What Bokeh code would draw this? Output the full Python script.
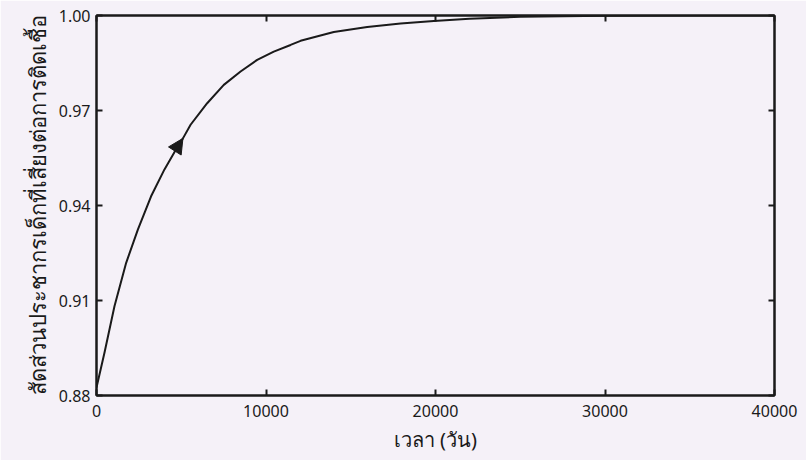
from bokeh.plotting import figure
from bokeh.models import LinearAxis, FixedTicker, Arrow, NormalHead, Range1d
from bokeh.embed import file_html
from bokeh.resources import INLINE

# Proportion of the susceptible child population over time
days = [0, 470, 1060, 1750, 2440, 3220, 4010, 4800, 5100, 5550, 6530, 7510,
        8500, 9480, 10460, 11450, 12040, 14000, 15970, 17940, 19900, 22000,
        25000, 30000, 35000, 40000]
proportion = [0.8825, 0.8935, 0.9082, 0.9219, 0.9324, 0.9429, 0.9514, 0.9587,
              0.9612, 0.9655, 0.9723, 0.9781, 0.9823, 0.9860, 0.9886, 0.9907,
              0.9920, 0.9948, 0.9964, 0.9975, 0.9983, 0.9990, 0.9996, 0.9999,
              1.0, 1.0]

x_ticks = [0, 10000, 20000, 30000, 40000]
y_ticks = [0.88, 0.91, 0.94, 0.97, 1.00]
y_tick_labels = {0.88: "0.88", 0.91: "0.91", 0.94: "0.94", 0.97: "0.97", 1.0: "1.00"}

x_title = "เวลา (วัน)"
y_title = "สัดส่วนประชากรเด็กที่เสี่ยงต่อการติดเชื้อ"

# direction arrow drawn between these two samples of the curve
arrow_from, arrow_to = 7, 8

BG = "#f5f1f8"
INK = "#1a1a1a"
FONT = "Noto Sans"

p = figure(width=806, height=460, output_backend="svg", toolbar_location=None,
           x_range=Range1d(0, 40000), y_range=Range1d(0.88, 1.0),
           min_border_left=96, min_border_right=32, min_border_top=15,
           min_border_bottom=65, background_fill_color=BG,
           border_fill_color=BG)
p.grid.visible = False
p.outline_line_color = INK
p.outline_line_width = 2

def style_axis(ax):
    ax.axis_line_color = INK
    ax.axis_line_width = 2
    ax.major_tick_in = 6
    ax.major_tick_out = 0
    ax.major_tick_line_color = INK
    ax.major_tick_line_width = 2
    ax.minor_tick_line_color = None
    ax.major_label_text_font = FONT
    ax.major_label_text_color = INK
    ax.major_label_text_font_size = "16px"
    ax.major_label_standoff = 6
    ax.axis_label_text_font = FONT
    ax.axis_label_text_font_style = "normal"
    ax.axis_label_text_color = INK

xa = p.xaxis[0]
ya = p.yaxis[0]
xa.ticker = FixedTicker(ticks=x_ticks)
ya.ticker = FixedTicker(ticks=y_ticks)
ya.major_label_overrides = y_tick_labels
style_axis(xa)
style_axis(ya)
xa.major_label_standoff = 9
xa.axis_label = x_title
ya.axis_label = y_title
xa.axis_label_text_font_size = "20px"
ya.axis_label_text_font_size = "22px"
xa.axis_label_standoff = 6
ya.axis_label_standoff = 4

# tick marks on the top and right edges of the frame, without labels
top = LinearAxis(ticker=FixedTicker(ticks=x_ticks),
                 major_label_overrides={t: "" for t in x_ticks})
right = LinearAxis(ticker=FixedTicker(ticks=y_ticks),
                   major_label_overrides={t: "" for t in y_ticks})
style_axis(top)
style_axis(right)
top.major_label_standoff = 0
right.major_label_standoff = 0
p.add_layout(top, "above")
p.add_layout(right, "right")

p.line(days, proportion, line_color=INK, line_width=2)

p.add_layout(Arrow(end=NormalHead(size=15, fill_color=INK, line_color=INK),
                   x_start=days[arrow_from], y_start=proportion[arrow_from],
                   x_end=days[arrow_to], y_end=proportion[arrow_to],
                   line_alpha=0))

open("out.html", "w").write(file_html(p, INLINE))
